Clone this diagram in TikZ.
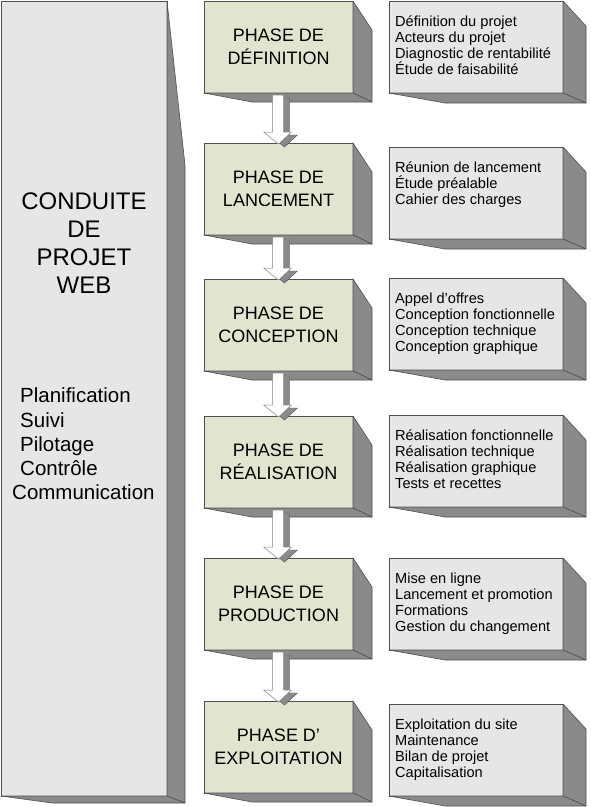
\documentclass[tikz,border=0pt]{standalone}
\usepackage{fontspec}
\setmainfont{Liberation Sans}
\usetikzlibrary{calc}
\definecolor{frontgray}{HTML}{E6E6E6}
\definecolor{sidegray}{HTML}{8A8A8A}
\definecolor{phasefill}{HTML}{E1E4CF}
\definecolor{edgegray}{HTML}{505050}
\tikzset{
 face/.style={draw=edgegray, line width=0.6pt, line join=round},
 phasebox/.style={face, fill=phasefill, minimum width=149pt, minimum height=92pt, inner sep=0pt, outer sep=0pt, anchor=north west, align=center, font=\fontsize{18}{22.5}\selectfont},
 infobox/.style={face, fill=frontgray, minimum width=174pt, minimum height=92pt, inner sep=0pt, outer sep=0pt, anchor=north west},
 infotext/.style={anchor=north west, inner sep=0pt, align=left, font=\fontsize{14.6}{16}\selectfont},
 bigbox/.style={face, fill=frontgray, minimum width=166pt, minimum height=795pt, inner sep=0pt, outer sep=0pt, anchor=north west},
 shadeface/.style={face, fill=sidegray},
 arrowbody/.style={draw=edgegray!70, line width=0.5pt, fill=white, line join=round},
 arrowshadow/.style={fill=sidegray, draw=edgegray, line width=0.4pt, line join=round},
}
\newcommand{\extrudeface}[5]{%
 \filldraw[shadeface] (#1.north east) -- ($(#1.north east)+(#2,#3)$) -- ($(#1.south east)+(#2,#4)$) -- (#1.south east) -- cycle;
 \filldraw[shadeface] (#1.south west) -- ($(#1.south west)+(#5,#4)$) -- ($(#1.south east)+(#2,#4)$) -- (#1.south east) -- cycle;
}
\newcommand{\arrowpoly}[4]{%
 ($(#1.south)+(-6+#3,2+#4)$) -- ($(#1.south)+(5+#3,2+#4)$) -- ($(#2.north)+(5+#3,-11+#4)$) -- ($(#2.north)+(13+#3,-11+#4)$) -- ($(#2.north)+(0+#3,1+#4)$) -- ($(#2.north)+(-15+#3,-11+#4)$) -- ($(#2.north)+(-6+#3,-11+#4)$) -- cycle}
\newcommand{\phasearrow}[2]{%
 \filldraw[arrowshadow] \arrowpoly{#1}{#2}{6}{3};
 \filldraw[arrowbody] \arrowpoly{#1}{#2}{0}{0};
}
\begin{document}
\begin{tikzpicture}[x=1pt,y=-1pt]
\useasboundingbox[fill=white] (0,0) rectangle (590,807);

% left big box
\node[bigbox] (lb) at (1,1) {};
\extrudeface{lb}{18}{164}{7}{51}
\node[align=center, inner sep=0pt, font=\fontsize{24}{28}\selectfont] (title) at (84,243) {CONDUITE\\DE\\PROJET\\WEB};
\node[align=left, anchor=west, inner sep=0pt, font=\fontsize{20.5}{24.2}\selectfont] (tasks) at (20,444) {Planification\\Suivi\\Pilotage\\Contrôle\\\hspace*{-8pt}Communication};

% phase boxes
\node[phasebox] (p1) at (204,1) {PHASE DE\\DÉFINITION};
\node[phasebox] (p2) at (204,143) {PHASE DE\\LANCEMENT};
\node[phasebox] (p3) at (204,279) {PHASE DE\\CONCEPTION};
\node[phasebox] (p4) at (204,416) {PHASE DE\\RÉALISATION};
\node[phasebox] (p5) at (204,558) {PHASE DE\\PRODUCTION};
\node[phasebox] (p6) at (204,701) {PHASE D’\\EXPLOITATION};
\foreach \n in {p1,p2,p3,p4,p5,p6}{\extrudeface{\n}{19}{29}{9}{48}}

% info boxes
\node[infobox] (i1) at (389,1) {};
\node[infobox] (i2) at (389,147) {};
\node[infobox] (i3) at (389,278) {};
\node[infobox] (i4) at (389,415) {};
\node[infobox] (i5) at (389,558) {};
\node[infobox] (i6) at (389,704) {};
\foreach \n in {i1,i2,i3,i4,i5,i6}{\extrudeface{\n}{23}{25}{10}{56}}

\node[infotext] (t1) at ($(i1.north west)+(6,11)$) {\rule{0pt}{14pt}Définition du projet\\Acteurs du projet\\Diagnostic de rentabilité\\Étude de faisabilité};
\node[infotext] (t2) at ($(i2.north west)+(6,11)$) {\rule{0pt}{14pt}Réunion de lancement\\Étude préalable\\Cahier des charges};
\node[infotext] (t3) at ($(i3.north west)+(6,11)$) {\rule{0pt}{14pt}Appel d’offres\\Conception fonctionnelle\\Conception technique\\Conception graphique};
\node[infotext] (t4) at ($(i4.north west)+(6,11)$) {\rule{0pt}{14pt}Réalisation fonctionnelle\\Réalisation technique\\Réalisation graphique\\Tests et recettes};
\node[infotext] (t5) at ($(i5.north west)+(6,11)$) {\rule{0pt}{14pt}Mise en ligne\\Lancement et promotion\\Formations\\Gestion du changement};
\node[infotext] (t6) at ($(i6.north west)+(6,11)$) {\rule{0pt}{14pt}Exploitation du site\\Maintenance\\Bilan de projet\\Capitalisation};

% arrows
\phasearrow{p1}{p2}
\phasearrow{p2}{p3}
\phasearrow{p3}{p4}
\phasearrow{p4}{p5}
\phasearrow{p5}{p6}
\end{tikzpicture}
\end{document}
